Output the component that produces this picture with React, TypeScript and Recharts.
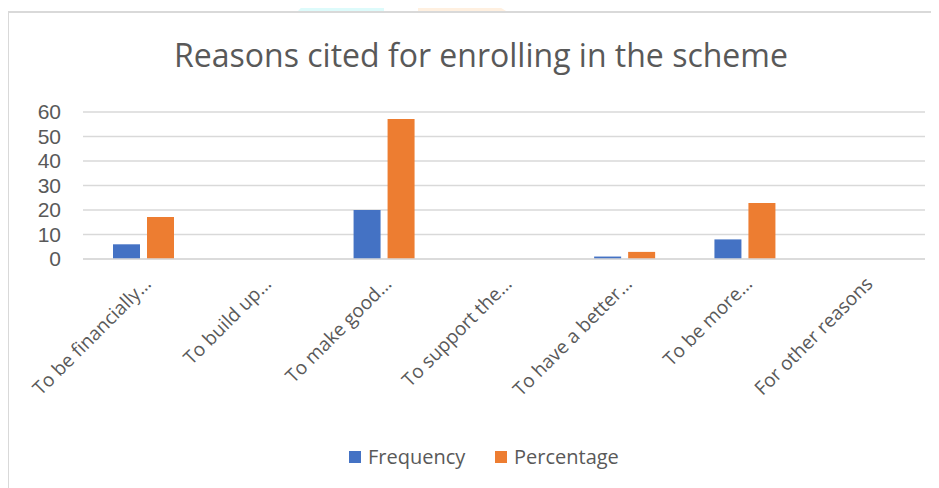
import React from 'react';
import { BarChart, Bar, XAxis, YAxis, CartesianGrid, Legend } from 'recharts';

const categories = [
  'To be financially…',
  'To build up…',
  'To make good…',
  'To support the…',
  'To have a better…',
  'To be more…',
  'For other reasons',
];
const frequency = [6, 0, 20, 0, 1, 8, 0];
const percentage = [17.1, 0, 57.1, 0, 2.9, 22.9, 0];
const yTicks = [0, 10, 20, 30, 40, 50, 60];

const data = categories.map((name, i) => ({ name, Frequency: frequency[i], Percentage: percentage[i] }));

const FONT = '"Open Sans", "Noto Sans", sans-serif';
const TICK_FONT = '"Liberation Sans", Arial, sans-serif';
const TEXT = '#595959';
const BLUE = '#4472C4';
const ORANGE = '#ED7D31';
const GRID = '#D9D9D9';

const CatTick = (props: any) => {
  const { x, y, payload } = props;
  const ax = x + 9;
  const ay = y + 26;
  return (
    <text
      x={ax}
      y={ay}
      transform={`rotate(-45 ${ax} ${ay})`}
      textAnchor="end"
      fill={TEXT}
      fontSize={19}
      fontFamily={FONT}
    >
      {payload.value}
    </text>
  );
};

const LegendContent = () => (
  <div style={{ position: 'relative', height: 24, fontFamily: FONT, fontSize: 20, color: TEXT }}>
    {[
      { label: 'Frequency', color: BLUE, left: 349 },
      { label: 'Percentage', color: ORANGE, left: 495 },
    ].map((it) => (
      <div key={it.label} style={{ position: 'absolute', left: it.left, top: 0, height: 24, display: 'flex', alignItems: 'center' }}>
        <span style={{ display: 'inline-block', width: 12, height: 12, background: it.color, marginRight: 7 }} />
        <span style={{ lineHeight: '24px' }}>{it.label}</span>
      </div>
    ))}
  </div>
);

export default function App() {
  return (
    <div style={{ position: 'relative', width: 939, height: 488, margin: '-8px 0 0 -8px', overflow: 'hidden', background: '#fff' }}>
      <div style={{ position: 'absolute', left: 298, top: 0, width: 86, height: 11, background: '#DDFBFB', clipPath: 'polygon(12% 0, 100% 0, 100% 100%, 0 100%)' }} />
      <div style={{ position: 'absolute', left: 418, top: 0, width: 88, height: 11, background: '#FFF0E0', clipPath: 'polygon(0 0, 80% 0, 100% 100%, 0 100%)' }} />
      <div style={{ position: 'absolute', left: 7, top: 11, width: 980, height: 520, border: '2px solid #D9D9D9', boxSizing: 'border-box' }} />
      <div
        style={{
          position: 'absolute',
          left: 0,
          top: 39,
          width: 962,
          textAlign: 'center',
          fontFamily: FONT,
          fontSize: 32,
          lineHeight: '32px',
          color: TEXT,
          whiteSpace: 'nowrap',
        }}
      >
        Reasons cited for enrolling in the scheme
      </div>
      <div style={{ position: 'absolute', left: 0, top: 0 }}>
        <BarChart width={939} height={488} data={data} margin={{ top: 112, right: 14, left: 0, bottom: 0 }} barSize={27} barGap={7}>
          <CartesianGrid vertical={false} stroke={GRID} strokeWidth={1.5} />
          <XAxis
            dataKey="name"
            interval={0}
            tickLine={false}
            tickSize={0}
            tickMargin={0}
            axisLine={{ stroke: GRID, strokeWidth: 1.5 }}
            height={205}
            tick={<CatTick />}
          />
          <YAxis
            width={83}
            domain={[0, 60]}
            ticks={yTicks}
            interval={0}
            axisLine={false}
            tickLine={false}
            tickSize={6}
            tickMargin={16}
            tick={{ fill: TEXT, fontSize: 21, fontFamily: TICK_FONT }}
          />
          <Legend
            verticalAlign="bottom"
            content={<LegendContent />}
            wrapperStyle={{ top: 445, left: 0, width: 939, height: 24 }}
          />
          <Bar dataKey="Frequency" fill={BLUE} isAnimationActive={false} />
          <Bar dataKey="Percentage" fill={ORANGE} isAnimationActive={false} />
        </BarChart>
      </div>
    </div>
  );
}
